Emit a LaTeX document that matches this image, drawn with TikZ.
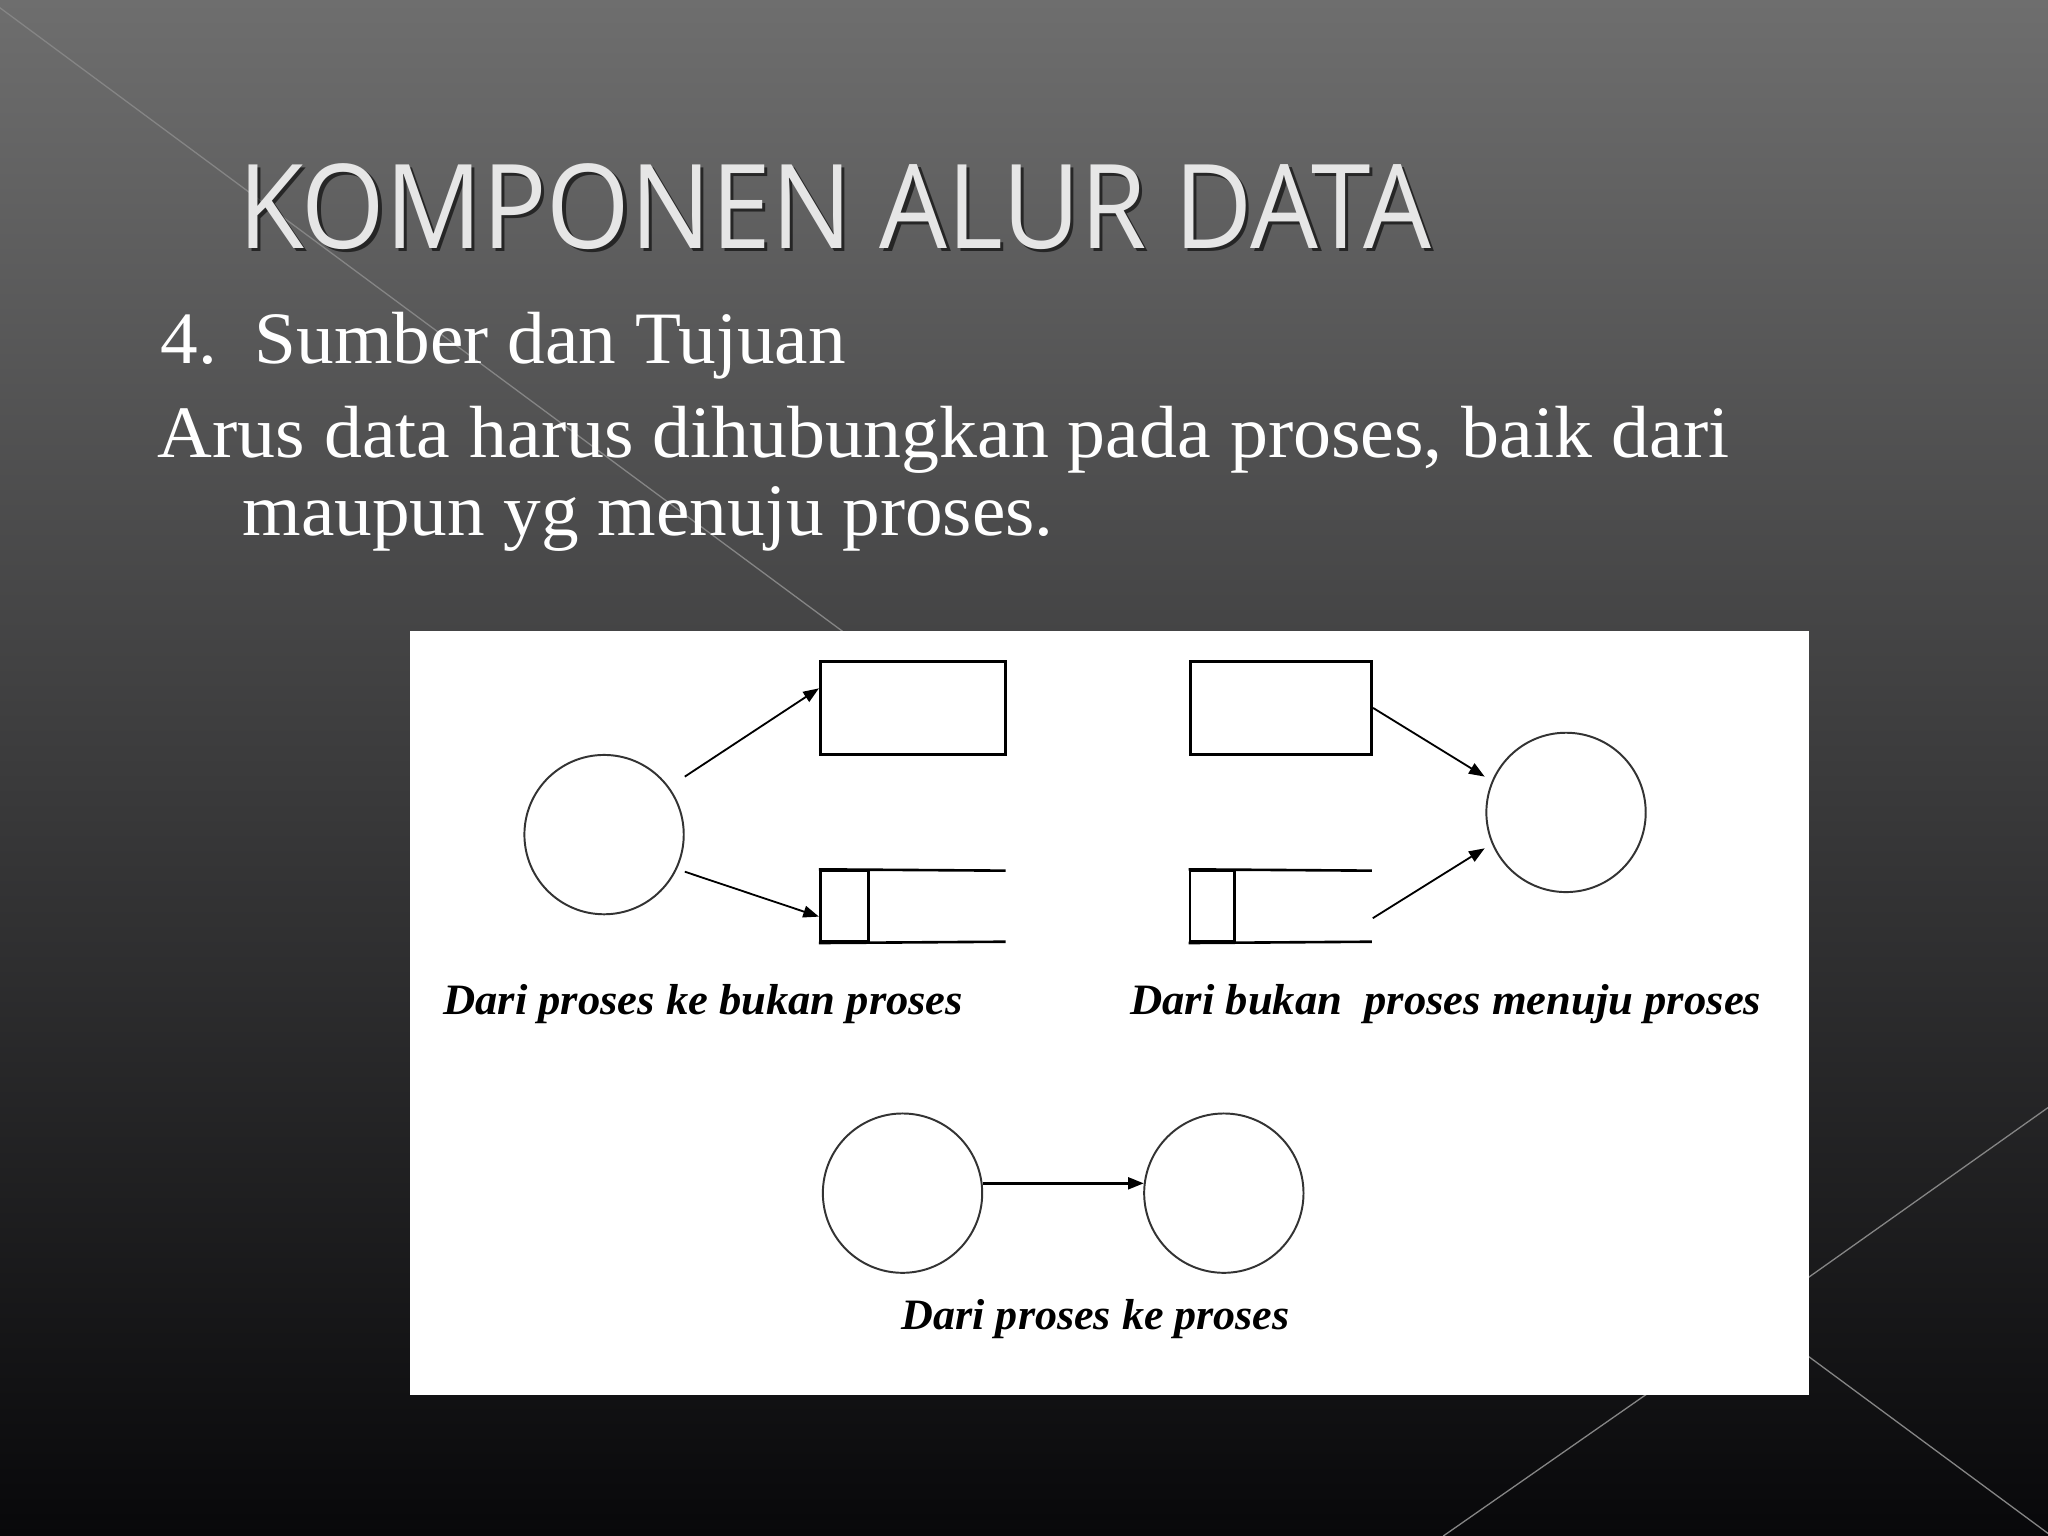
\documentclass[tikz,border=0pt]{standalone}
\usepackage{fontspec}
\setmainfont{Liberation Serif}
\newfontfamily\titlefont{Open Sans}
\usetikzlibrary{arrows.meta,calc}
\definecolor{bgtop}{HTML}{6E6E6E}
\definecolor{bgmid}{HTML}{353535}
\definecolor{bgbot}{HTML}{08080A}
\definecolor{titlegray}{HTML}{E6E6E6}
\definecolor{bgline}{HTML}{858585}
\definecolor{circgray}{HTML}{333333}
\begin{document}
\begin{tikzpicture}[x=0.5pt,y=-0.5pt,
  bodytext/.style={anchor=base west, inner sep=0pt, text=white, font=\fontsize{28.3pt}{34pt}\selectfont},
  labtext/.style={anchor=base west, inner sep=0pt, text=black, font=\fontsize{16.6pt}{20pt}\selectfont\bfseries\itshape},
  proc/.style={circle, draw=circgray, line width=0.75pt, minimum size=61pt, inner sep=0pt},
  entity/.style={rectangle, draw=black, line width=1pt, minimum height=35.5pt, inner sep=0pt},
  storebox/.style={rectangle, draw=black, line width=1pt, minimum height=27.2pt, inner sep=0pt},
  storeline/.style={draw=black, line width=1pt},
  flow/.style={draw=black, line width=0.7pt, -{Triangle[length=6pt,width=4.5pt]}},
  bgstroke/.style={draw=bgline, line width=0.5pt}
]
\useasboundingbox (0,0) rectangle (1568,1176);
% background
\shade[top color=bgtop, middle color=bgmid, bottom color=bgbot] (0,0) rectangle (1568,1176);
\draw[bgstroke] (-10,-1.4) -- (700,524);
\draw[bgstroke] (1568,848) -- (1300,1038);
\draw[bgstroke] (1300,976) -- (1568,1174);
\draw[bgstroke] (1300,1040) -- (1105,1176);
% title
\node[anchor=base west, inner sep=0pt, text=black, opacity=0.6] (titleshadow) at (184.5,192.5) {\resizebox{456.5pt}{32.5pt}{\titlefont KOMPONEN ALUR DATA}};
\node[anchor=base west, inner sep=0pt, text=titlegray] (title) at (182,190) {\resizebox{456.5pt}{32.5pt}{\titlefont KOMPONEN ALUR DATA}};
% body text
\node[bodytext] (line1) at (122.5,278) {\resizebox{262.25pt}{\height}{4.\ \ Sumber dan Tujuan}};
\node[bodytext] (line2) at (120.4,350) {\resizebox{601.6pt}{\height}{Arus data harus dihubungkan pada proses, baik dari}};
\node[bodytext] (line3) at (185.3,410) {\resizebox{310.5pt}{\height}{maupun yg menuju proses.}};
% white panel
\fill[white] (314,483) rectangle (1385,1068);
% left group
\node[proc] (c1) at (462.5,639) {};
\node[entity, minimum width=71pt] (r1) at (699,542) {};
\node[storebox, minimum width=18.5pt] (s1) at (646.5,693.8) {};
\coordinate (s1te) at (770,666.6);
\coordinate (s1be) at (770,721);
\draw[storeline] (s1.north west) -- (s1te);
\draw[storeline] (s1.south west) -- (s1be);
\draw[flow] ($(c1.center)+(61.8,-44.4)$) -- ($(r1.west)+(0,-15)$);
\draw[flow] ($(c1.center)+(61.8,28.4)$) -- ($(s1.west)+(0,8)$);
% right group
\node[entity, minimum width=69.5pt] (r2) at (980.75,542) {};
\node[storebox, minimum width=17.1pt] (s2) at (928.1,693.8) {};
\coordinate (s2te) at (1050.4,666.6);
\coordinate (s2be) at (1050.4,721);
\coordinate (s2out) at (1051,703);
\draw[storeline] (s2.north west) -- (s2te);
\draw[storeline] (s2.south west) -- (s2be);
\node[proc] (c2) at (1199,622) {};
\draw[flow] (r2.east) -- ($(c2.center)+(-62.3,-27.4)$);
\draw[flow] (s2out) -- ($(c2.center)+(-62.3,27.5)$);
% bottom group
\node[proc] (c3) at (691,913.5) {};
\node[proc] (c4) at (937,913.5) {};
\draw[flow, line width=1pt] (c3.7) -- (c4.173);
% labels
\node[labtext] (lab1) at (339,777) {\resizebox{199pt}{\height}{Dari proses ke bukan proses}};
\node[labtext] (lab2) at (865,777) {\resizebox{241.5pt}{\height}{Dari bukan\ \ proses menuju proses}};
\node[labtext] (lab3) at (690,1018) {\resizebox{148.5pt}{\height}{Dari proses ke proses}};
\end{tikzpicture}
\end{document}
